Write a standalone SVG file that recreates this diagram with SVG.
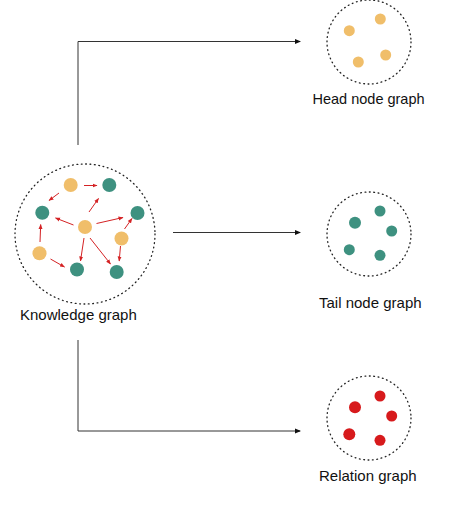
<svg xmlns="http://www.w3.org/2000/svg" width="458" height="518" viewBox="0 0 458 518">
<defs>
<marker id="ah" markerWidth="6" markerHeight="6" refX="5" refY="3" orient="auto" markerUnits="userSpaceOnUse"><path d="M0,0.5 L6,3 L0,5.5 Z" fill="#111"/></marker>
<marker id="rh" markerWidth="5" markerHeight="5" refX="4.5" refY="2.5" orient="auto" markerUnits="userSpaceOnUse"><path d="M0,0.5 L5,2.5 L0,4.5 Z" fill="#D42224"/></marker>
<style>
.ring{fill:none;stroke:#222;stroke-width:1.3;stroke-dasharray:0.8 3.6;stroke-linecap:round}
.o{fill:#F0BE6A}
.t{fill:#3E9180}
.r{fill:#D71A1C}
.conn{fill:none;stroke:#333;stroke-width:1}
.rl{stroke:#D42224;stroke-width:1;fill:none}
text{font-family:"Liberation Sans",Arial,sans-serif;font-size:15px;fill:#111}
</style>
</defs>
<rect width="458" height="518" fill="#fff"/>
<g id="connectors">
<path class="conn" d="M78,145 V41.5 H300" marker-end="url(#ah)"/>
<path class="conn" d="M173,232.5 H300" marker-end="url(#ah)"/>
<path class="conn" d="M78,340 V431 H300" marker-end="url(#ah)"/>
</g>
<g id="knowledge-graph">
<circle class="ring" cx="85" cy="234" r="70"/>
<g id="kg-edges">
<line class="rl" x1="84" y1="185.5" x2="97" y2="185.5" marker-end="url(#rh)"/>
<line class="rl" x1="59" y1="193" x2="49" y2="200.5" marker-end="url(#rh)"/>
<line class="rl" x1="89" y1="212" x2="98.5" y2="198.5" marker-end="url(#rh)"/>
<line class="rl" x1="73.5" y1="225" x2="55.5" y2="218" marker-end="url(#rh)"/>
<line class="rl" x1="96.5" y1="223.5" x2="123" y2="217.5" marker-end="url(#rh)"/>
<line class="rl" x1="124.5" y1="229" x2="132" y2="218.5" marker-end="url(#rh)"/>
<line class="rl" x1="40" y1="242" x2="40.7" y2="224.5" marker-end="url(#rh)"/>
<line class="rl" x1="84" y1="238" x2="80.5" y2="261" marker-end="url(#rh)"/>
<line class="rl" x1="90" y1="238" x2="110.5" y2="264" marker-end="url(#rh)"/>
<line class="rl" x1="50.5" y1="259" x2="64.5" y2="267" marker-end="url(#rh)"/>
<line class="rl" x1="120.5" y1="246" x2="119.2" y2="261" marker-end="url(#rh)"/>
</g>
<circle class="o" cx="70.7" cy="185" r="7"/>
<circle class="t" cx="109.3" cy="185" r="7"/>
<circle class="t" cx="42.3" cy="212.7" r="7"/>
<circle class="t" cx="137.5" cy="213" r="7"/>
<circle class="o" cx="85" cy="227" r="7"/>
<circle class="o" cx="121.5" cy="238.5" r="7"/>
<circle class="o" cx="39.5" cy="253.3" r="7"/>
<circle class="t" cx="77" cy="269.5" r="7"/>
<circle class="t" cx="116.7" cy="272" r="7"/>
<text x="20" y="320">Knowledge graph</text>
</g>
<g id="head-node-graph">
<circle class="ring" cx="369" cy="42" r="42"/>
<circle class="o" cx="349.3" cy="30.7" r="5.5"/>
<circle class="o" cx="380.3" cy="19" r="5.5"/>
<circle class="o" cx="385.7" cy="55" r="5.5"/>
<circle class="o" cx="358.3" cy="62" r="5.5"/>
<text x="312.5" y="104" style="font-size:14.5px">Head node graph</text>
</g>
<g id="tail-node-graph">
<circle class="ring" cx="369" cy="234" r="42"/>
<circle class="t" cx="380" cy="211" r="5.5"/>
<circle class="t" cx="355" cy="222.7" r="6"/>
<circle class="t" cx="391.7" cy="231" r="5.5"/>
<circle class="t" cx="349.3" cy="249.7" r="5.5"/>
<circle class="t" cx="380" cy="255.3" r="5.5"/>
<text x="319" y="307.5">Tail node graph</text>
</g>
<g id="relation-graph">
<circle class="ring" cx="369" cy="418" r="42"/>
<circle class="r" cx="380" cy="396" r="5.5"/>
<circle class="r" cx="355" cy="407.3" r="6"/>
<circle class="r" cx="391.7" cy="416" r="5.5"/>
<circle class="r" cx="349.3" cy="434.3" r="6"/>
<circle class="r" cx="380" cy="440.3" r="5.5"/>
<text x="319" y="480.5">Relation graph</text>
</g>
</svg>
